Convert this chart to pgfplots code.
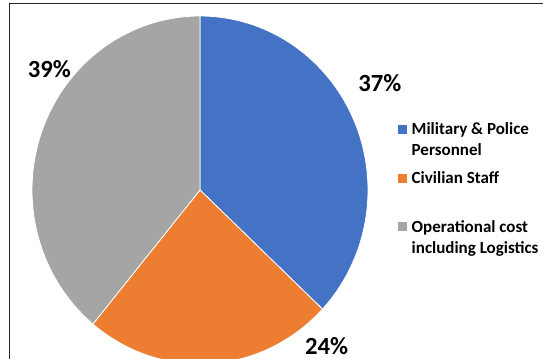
\documentclass[border=0pt]{standalone}
\usepackage{pgfplots}
\pgfplotsset{compat=1.18}
\usepackage{pgfplotstable}
\usepackage{fontspec}
\setmainfont{Carlito}
\definecolor{pieblue}{HTML}{4472C4}
\definecolor{pieorange}{HTML}{ED7D31}
\definecolor{piegray}{HTML}{A5A5A5}

\pgfplotstableread{
share
37
24
39
}\piedata
\pgfplotstablegetelem{0}{share}\of\piedata \let\sa\pgfplotsretval
\pgfplotstablegetelem{1}{share}\of\piedata \let\sb\pgfplotsretval
\pgfplotstablegetelem{2}{share}\of\piedata \let\sc\pgfplotsretval
\pgfmathsetmacro\aA{90}
\pgfmathsetmacro\aB{\aA-3.6*\sa}
\pgfmathsetmacro\aC{\aB-3.6*\sb}
\pgfmathsetmacro\aD{\aC-3.6*\sc}
\newcommand\legfont{\fontsize{12.75}{15.75}\selectfont\bfseries}

\begin{document}
\begin{tikzpicture}
\path[use as bounding box] (0,0) rectangle (407.25pt,269.25pt);
\draw[line width=0.75pt, color=black!85] (6.75pt,0) -- (6.75pt,266.25pt) -- (407.25pt,266.25pt);
\begin{axis}[
  at={(150pt,126.75pt)}, anchor=center,
  x=126pt, y=130.5pt,
  xmin=-1, xmax=1, ymin=-1, ymax=1,
  hide axis, clip=false,
  legend style={draw=none, fill=none, at={(1.0878,0.7003)}, anchor=north west,
    inner sep=0pt, outer sep=0pt, row sep=0pt, column sep=3.9pt,
    nodes={inner sep=0pt, text height=11.025pt, text depth=25.4pt, font=\legfont},
    cells={anchor=base west}},
  legend image code/.code={\fill[#1, draw=none] (0pt,0.75pt) rectangle (6.75pt,7.5pt);},
]
\addplot[fill=pieblue, draw=white, line width=0.6pt, domain=\aB:\aA, samples=80]
  ({cos(x)},{sin(x)}) -- (0,0) -- cycle;
\addlegendentry{\parbox[t]{4.2cm}{\legfont\strut Military \& Police\\\strut Personnel}}
\addplot[fill=pieorange, draw=white, line width=0.6pt, domain=\aC:\aB, samples=60]
  ({cos(x)},{sin(x)}) -- (0,0) -- cycle;
\addlegendentry{\parbox[t]{4.2cm}{\legfont\strut Civilian Staff}}
\addplot[fill=piegray, draw=white, line width=0.6pt, domain=\aD:\aC, samples=80]
  ({cos(x)},{sin(x)}) -- (0,0) -- cycle;
\addlegendentry{\parbox[t]{4.2cm}{\legfont\strut Operational cost\\\strut including Logistics}}
\node[font=\fontsize{18.5}{22}\selectfont\bfseries] at (axis cs:-0.896,0.695) {39\%};
\node[font=\fontsize{18.5}{22}\selectfont\bfseries] at (axis cs:1.071,0.615) {37\%};
\node[font=\fontsize{18.5}{22}\selectfont\bfseries] at (axis cs:0.753,-0.897) {24\%};
\end{axis}
\end{tikzpicture}
\end{document}
